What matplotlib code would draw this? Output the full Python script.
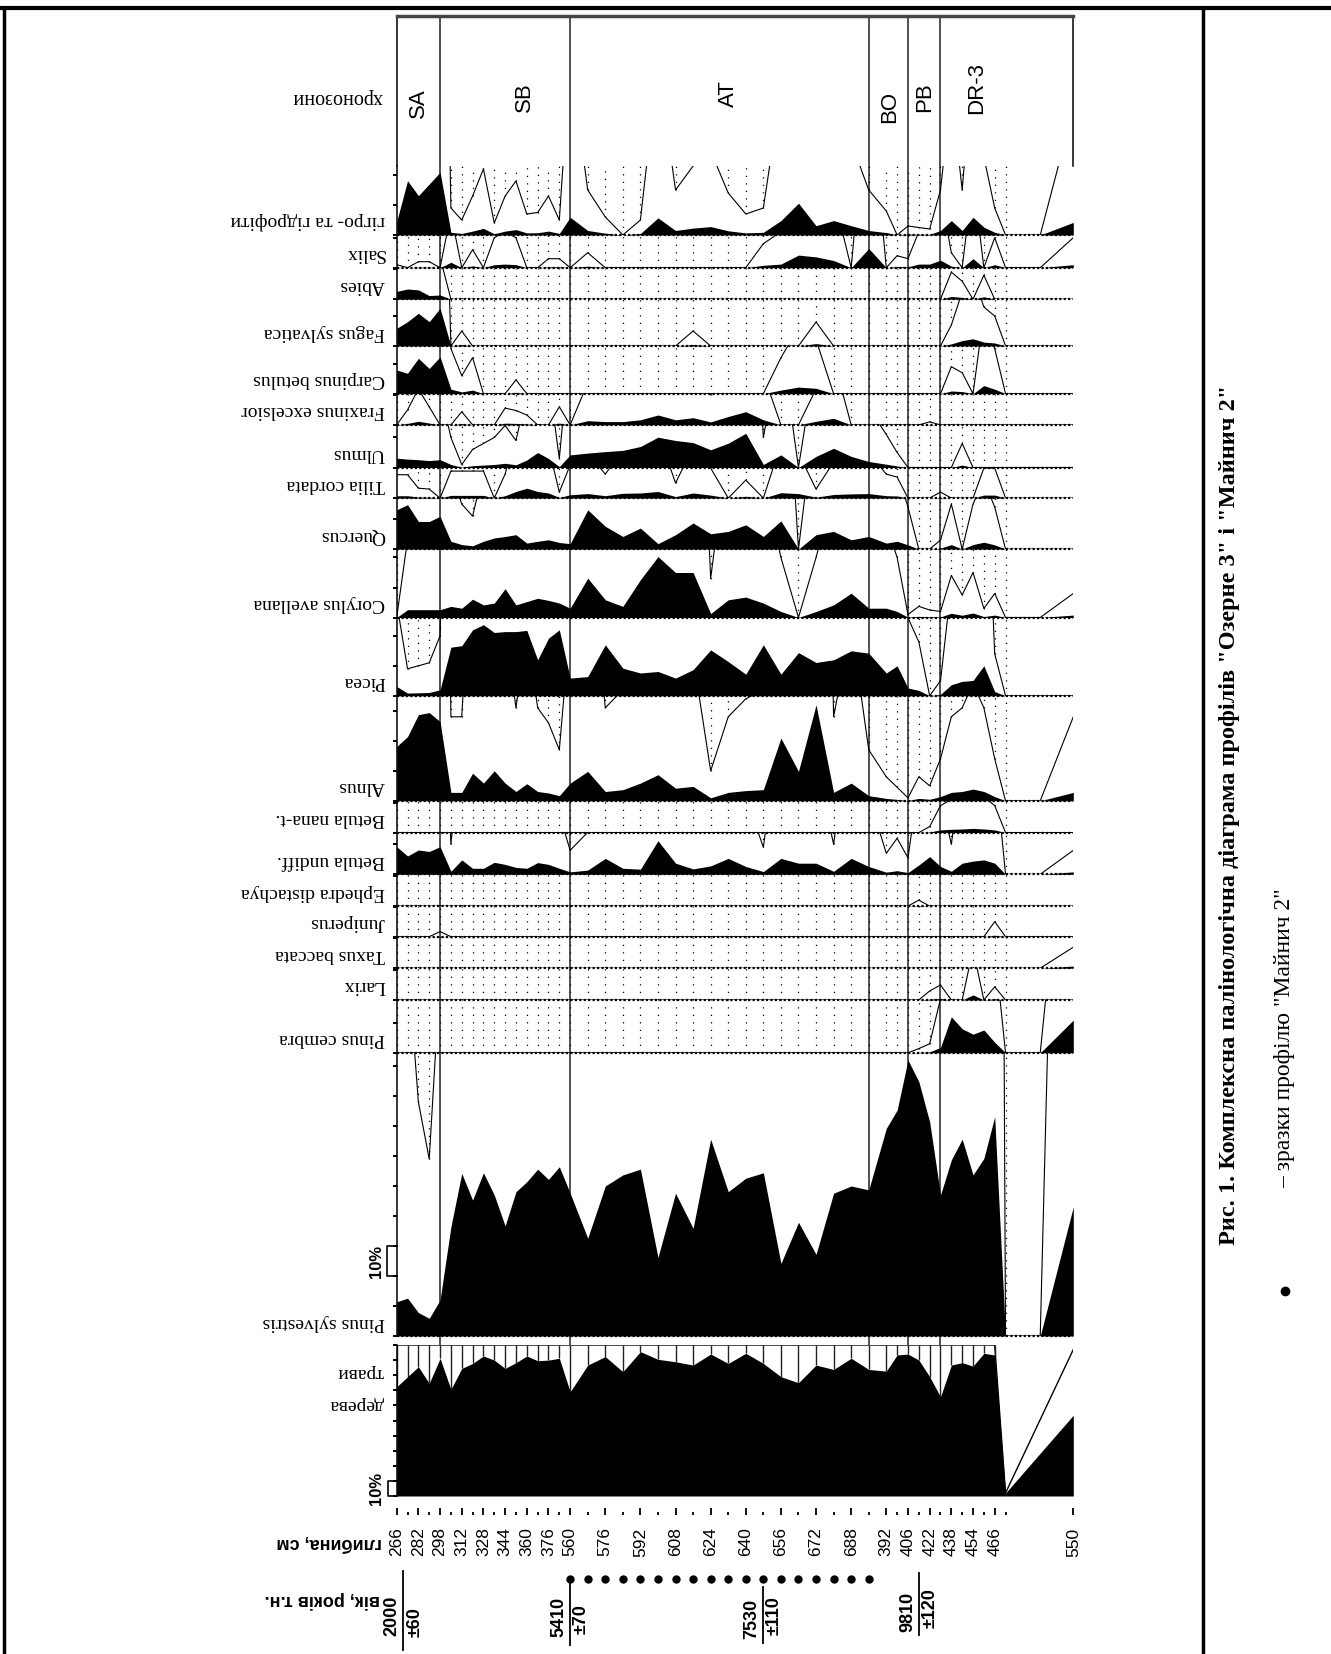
import numpy as np
import matplotlib
matplotlib.use("Agg")
import matplotlib.pyplot as plt
from matplotlib.transforms import blended_transform_factory as blend

plt.rcParams["font.family"] = ["Liberation Sans", "DejaVu Sans"]

# ---- зразки (глибина, см) ----
depth_oz_top = [266, 274, 282, 290, 298, 305, 312, 320, 328, 336, 344, 352, 360, 368, 376, 384]
depth_mn = [560, 568, 576, 584, 592, 600, 608, 616, 624, 632, 640, 648, 656, 664, 672, 680, 688, 696]
depth_oz_low = [392, 399, 406, 414, 422, 430, 438, 446, 454, 460, 466, 474, 520, 550]
depth_labels = [266, 282, 298, 312, 328, 344, 360, 376, 560, 576, 592, 608, 624, 640, 656, 672,
                688, 392, 406, 422, 438, 454, 466, 550]
# крок по складеній осі: Озерне 3 = 1, Майнич 2 = 1.62, хвіст профілю
step_oz, step_mn, step_tail = 1.0, 1.62, [3.2, 3.05]

# хронозони: межі та назви
zone_bounds = [("oz", 298), ("mn", 560), ("mn", 696), ("oz", 406), ("oz", 430)]
zone_names = [("SA", "oz", 282), ("SB", "oz", 358), ("AT", "mn", 632),
              ("BO", "oz", 394), ("PB", "oz", 418), ("DR-3", "oz", 456)]

# радіовуглецеві дати
dates = [(2000, 60, "oz", 271), (5410, 70, "mn", 560), (7530, 110, "mn", 648), (9810, 120, "oz", 414)]

# ---- пилок, % (по зразках: 16 верх. Озерне 3, 18 Майнич 2, 14 ниж. Озерне 3) ----
hygro = [4.5, 18.1, 13.1, 17.0, 20.9,
         0.9, 0.5, 1.3, 2.2, 0.4, 1.3, 1.8, 0.7, 0.75, 1.3, 0.5,
         5.9, 1.5, 0.6, 0, 0.5, 5.7, 1.5, 2.3, 2.8, 1.4, 0.7, 0.9, 4.8, 10.6, 3.1, 4.8, 3.1, 1.5,
         0.8, 0, 0.3, 0.25, 0.2, 1.5, 4.8, 1.5, 5.9, 2.6, 0.9, 0,
         0, 4.2]
salix = [0.1, 0, 0.2, 0.2, 0,
         1.8, 0, 0.6, 0, 1.0, 1.2, 1.0, 0, 0, 0.3, 0.3,
         0, 0.5, 0, 0, 0, 0, 0, 0, 0, 0, 0, 0.8, 1.2, 4.2, 3.6, 2.4, 0, 6.4,
         0, 0.4, 0.3, 1.2, 1.2, 2.5, 0.5, 0, 3.0, 0, 1.0, 0,
         0, 1.0]
abies = [2.6, 3.4, 3.1, 1.2, 1.4,
         0, 0, 0, 0, 0, 0, 0, 0, 0, 0, 0,
         0, 0, 0, 0, 0, 0, 0, 0, 0, 0, 0, 0, 0, 0, 0, 0, 0, 0,
         0, 0, 0, 0, 0, 0, 0.9, 0.6, 0, 0.8, 0, 0,
         0, 0]
fagus = [5.9, 8.1, 10.9, 8.1, 12.6,
         0, 0.5, 0, 0, 0, 0, 0, 0, 0, 0, 0,
         0, 0, 0, 0, 0, 0, 0, 0.5, 0, 0, 0, 0, 0, 0, 0.8, 0, 0, 0,
         0, 0, 0, 0, 0, 0, 0.7, 1.8, 2.4, 1.3, 1.0, 0,
         0, 0]
carpinus = [7.9, 6.8, 11.8, 8.4, 12.3,
            1.5, 0.6, 1.2, 0, 0, 0, 0.46, 0, 0, 0, 0,
            0, 0, 0, 0, 0, 0, 0, 0, 0, 0, 0, 0, 1.2, 2.2, 1.8, 0, 0, 0,
            0, 0, 0, 0, 0, 0, 0.9, 0.7, 0, 2.7, 1.5, 0,
            0, 0]
fraxinus = [0, 0.5, 1.2, 0.6, 0,
            0, 0.44, 0, 0, 0, 0.56, 0.48, 0.33, 0, 0, 0.6,
            0, 1.4, 1.1, 1.1, 1.7, 3.3, 1.7, 2.4, 1.0, 2.8, 4.4, 1.7, 0, 0, 1.2, 2.2, 0, 0,
            0, 0, 0, 0, 0.1, 0, 0, 0, 0, 0, 0, 0,
            0, 0]
ulmus = [3.1, 2.8, 2.6, 2.3, 2.6,
         1.0, 0.1, 0.6, 0.8, 1.0, 1.4, 0.9, 2.5, 5.0, 3.0, 0.3,
         4.2, 4.8, 5.3, 5.7, 7.0, 10.1, 9.0, 8.3, 5.9, 8.1, 11.4, 1.0, 4.2, 0, 3.7, 6.4, 3.7, 2.0,
         1.1, 0.5, 0, 0, 0, 0, 0, 0.8, 0, 0, 0, 0,
         0, 0]
tilia = [0.78, 0.78, 0.33, 0.3, 0,
         0.9, 0.9, 0.9, 0.9, 0, 0.8, 2.2, 3.3, 2.2, 1.7, 0.2,
         1.1, 1.5, 0.8, 1.6, 1.7, 2.2, 0.5, 1.7, 1.0, 0, 0.6, 0, 1.8, 1.5, 0.3, 1.2, 1.4, 1.5,
         0.8, 0.7, 0, 0, 0, 0.2, 0, 0, 0, 1.0, 1.0, 0,
         0, 0]
quercus = [13.1, 14.8, 9.2, 9.2, 10.9,
           2.6, 1.5, 1.1, 2.6, 3.7, 4.2, 4.8, 2.0, 2.6, 3.1, 2.2,
           1.8, 13.1, 7.6, 4.2, 7.0, 1.8, 4.8, 8.7, 5.1, 5.9, 8.1, 4.2, 9.4, 0, 4.8, 5.9, 3.1, 4.2,
           2.0, 2.6, 1.4, 0, 0, 0.3, 1.5, 0, 1.5, 2.3, 1.4, 0,
           0, 0]
corylus = [0, 2.6, 2.6, 2.6, 2.6,
           3.7, 3.1, 6.1, 4.2, 4.8, 9.6, 4.2, 5.3, 6.4, 5.7, 4.8,
           3.1, 13.1, 5.9, 3.7, 12.6, 20.3, 15.0, 15.0, 1.3, 5.9, 6.8, 4.8, 2.0, 0, 2.0, 4.2, 8.1, 3.1,
           3.1, 2.0, 0.1, 0.37, 0.25, 0.2, 1.4, 0.75, 1.5, 0.3, 0.8, 0,
           0, 0.8]
picea = [3.1, 0.9, 1.0, 1.1, 2.0,
         16.2, 16.7, 22.0, 23.7, 21.1, 21.4, 21.4, 21.8, 12.0, 19.2, 22.0,
         5.9, 6.4, 17.0, 9.2, 7.6, 8.1, 5.9, 8.7, 15.3, 11.4, 7.2, 17.0, 7.2, 14.4, 11.1, 12.0, 15.0, 14.2,
         7.6, 10.0, 2.6, 1.8, 0, 0.5, 3.7, 4.8, 5.1, 10.0, 1.4, 0,
         0, 0]
alnus = [18.1, 21.4, 28.7, 29.4, 26.4,
         2.8, 2.8, 9.2, 5.9, 10.0, 5.9, 3.1, 5.7, 3.1, 2.6, 1.7,
         5.9, 9.8, 3.1, 3.7, 5.9, 8.7, 4.2, 4.8, 1.0, 2.8, 3.4, 3.7, 20.9, 9.8, 32.0, 2.8, 5.9, 1.7,
         0.8, 0.45, 0.1, 0.8, 0.5, 1.4, 2.8, 3.1, 3.9, 3.1, 1.4, 0,
         0, 2.8]
betula_nana = [0] * 38 + [0.2, 0.9, 1.1, 1.2, 1.4, 1.2, 0.9, 0] + [0, 0]
betula = [9.2, 6.1, 8.1, 7.6, 9.2,
          1.0, 4.8, 2.0, 2.0, 4.0, 3.3, 2.3, 2.0, 3.9, 3.3, 2.0,
          0.8, 1.4, 5.3, 2.0, 1.7, 11.2, 3.7, 1.8, 2.8, 5.3, 2.6, 0.9, 5.3, 3.7, 3.7, 1.0, 5.3, 2.6,
          0.7, 1.2, 0.55, 3.1, 5.9, 2.6, 1.0, 3.7, 4.4, 4.8, 3.7, 0,
          0, 0.8]
ephedra = [0] * 37 + [0.2] + [0] * 10
juniperus = [0] * 4 + [0.17] + [0] * 39 + [0.5, 0, 0, 0]
taxus = [0] * 47 + [0.7]
larix = [0] * 38 + [0.3, 0.5, 0, 0, 1.7, 0, 0.44, 0] + [0, 0]
pinus_cembra = [0] * 37 + [0.14, 0.3, 1.8, 12.0, 8.0, 6.2, 7.6, 3.5, 0] + [0, 10.9]
pinus_sylv = [11.4, 12.6, 7.8, 5.9, 12.0,
              36.4, 54.2, 45.3, 54.4, 47.0, 36.7, 48.1, 51.4, 55.6, 52.2, 56.4,
              47.6, 32.6, 50.0, 53.7, 55.6, 26.2, 47.6, 35.9, 65.6, 48.1, 52.6, 54.4, 24.2, 37.9, 27.2, 47.6, 50.0, 48.7,
              69.2, 75.3, 92.0, 84.8, 71.4, 47.0, 58.7, 65.6, 53.7, 59.2, 73.1, 0,
              0, 43.1]
trees = [72.3, 79.0, 85.6, 74.6, 91.2,
         70.6, 84.5, 87.8, 92.7, 90.0, 84.5, 88.3, 92.7, 89.6, 90.0, 91.2,
         69.0, 86.7, 92.3, 82.3, 95.6, 90.5, 88.9, 86.7, 94.0, 87.8, 94.5, 87.8, 79.0, 75.0, 86.7, 83.8, 91.2, 83.8,
         82.7, 93.4, 94.0, 90.0, 79.0, 65.7, 86.7, 88.3, 86.0, 94.5, 93.4, 2.0,
         np.nan, 53.5]
trees_herbs = [100] * 45 + [2.0, np.nan, 97.0]

panels = [
    ("гігро- та гідрофіти", hygro, 23.0),
    ("Salix", salix, 10.9),
    ("Abies", abies, 10.5),
    ("Fagus sylvatica", fagus, 15.6),
    ("Carpinus betulus", carpinus, 15.9),
    ("Fraxinus excelsior", fraxinus, 10.4),
    ("Ulmus", ulmus, 14.2),
    ("Tilia cordata", tilia, 10.2),
    ("Quercus", quercus, 17.0),
    ("Corylus avellana", corylus, 22.8),
    ("Picea", picea, 26.1),
    ("Alnus", alnus, 35.0),
    ("Betula nana-t.", betula_nana, 10.6),
    ("Betula undiff.", betula, 13.9),
    ("Ephedra distachya", ephedra, 10.6),
    ("Juniperus", juniperus, 10.2),
    ("Taxus baccata", taxus, 10.5),
    ("Larix", larix, 10.6),
    ("Pinus cembra", pinus_cembra, 17.6),
    ("Pinus sylvestris", pinus_sylv, 94.4),
]

# ---- позиції зразків на складеній осі ----
steps = [0.0] + [step_oz] * 16 + [step_mn] * 18 + [step_oz] * 11 + step_tail
pos = np.cumsum(steps)
profile = ["oz"] * len(depth_oz_top) + ["mn"] * len(depth_mn) + ["oz"] * len(depth_oz_low)
depths = depth_oz_top + depth_mn + depth_oz_low
xmax = pos[-1]


def to_pos(prof, d):
    ds = [dd for p, dd in zip(profile, depths) if p == prof]
    ps = [pp for p, pp in zip(profile, pos) if p == prof]
    return np.interp(d, ds, ps)


has_tick = np.array([d != 520 for d in depths])
dotted_ok = np.array([d not in (520, 550) for d in depths])

W, H = 1331, 1654
X0, X1 = 396.7, 1073.3
PX = 3.0  # пікселів на 1 %

fig = plt.figure(figsize=(W / 100, H / 100), dpi=100)


def frac(x0, y0, x1, y1):
    return [x0 / W, 1 - y1 / H, (x1 - x0) / W, (y1 - y0) / H]


ov = fig.add_axes([0, 0, 1, 1])
ov.set_xlim(0, W)
ov.set_ylim(H, 0)
ov.axis("off")
ov.plot([0, W], [8, 8], color="black", lw=3)
ov.plot([4, 4], [8, H], color="black", lw=2.5)
ov.plot([1203, 1203], [8, H], color="black", lw=2.5)

# лінії меж хронозон
zax = fig.add_axes(frac(X0, 16, X1, 1345))
zax.set_xlim(0, xmax)
zax.axis("off")
for prof, d in zone_bounds:
    zax.axvline(to_pos(prof, d), color="#222222", lw=1.1)

# хронозони
cax = fig.add_axes(frac(X0, 16, X1, 166))
cax.set_xlim(0, xmax)
cax.patch.set_alpha(0)
cax.set_xticks([])
cax.set_yticks([])
cax.spines["bottom"].set_visible(False)
cax.spines["top"].set_linewidth(2.5)
cax.spines["top"].set_color("#444444")
for s in ("left", "right"):
    cax.spines[s].set_linewidth(1.1)
zone_label_y = [103, 97, 94, 107, 97, 88]
bt_c = blend(cax.transData, ov.transData)
for (lab, prof, d), yy in zip(zone_names, zone_label_y):
    cax.text(to_pos(prof, d), yy, lab, transform=bt_c, rotation=90, ha="center", va="center",
             fontsize=16)
ov.text(383, 97, "хронозони", rotation=180, ha="right", va="center",
        fontfamily="Liberation Serif", fontsize=14.5)

# пилкові криві
top = 166.0
for name, vals, vmax in panels:
    h = vmax * PX
    ax = fig.add_axes(frac(X0, top, X1, top + h))
    ax.patch.set_alpha(0)
    ax.set_xlim(0, xmax)
    ax.set_ylim(0, vmax)
    v = np.array(vals, dtype=float)
    ex = v * 10
    ax.fill_between(pos, v, 0, color="black", lw=0, zorder=3)
    ax.plot(pos, ex, color="black", lw=0.8, zorder=2)
    m = (ex < vmax) & dotted_ok
    ax.vlines(pos[m], ex[m], vmax, colors="black", linestyles=(0, (1, 5)), lw=0.9, zorder=1)
    ax.axhline(0, color="black", lw=1.6, ls=(0, (1, 1)), clip_on=False, zorder=1)
    for s in ("top", "right", "bottom"):
        ax.spines[s].set_visible(False)
    ax.spines["left"].set_linewidth(1.1)
    ax.set_xticks([])
    ax.set_yticks(np.arange(0, vmax + 0.01, 10))
    ax.tick_params(axis="y", direction="out", length=3, width=1.4, labelleft=False)
    ov.text(385, top + h - 14, name, rotation=180, ha="right", va="center",
            fontfamily="Liberation Serif", fontsize=14)
    if name == "Pinus sylvestris":
        bt = blend(ov.transData, ax.transData)
        ax.plot([X0, 387, 387, X0], [30, 30, 20, 20], color="black", lw=1.2,
                transform=bt, clip_on=False)
        ax.text(377, 25, "10%", transform=bt, rotation=90, ha="center", va="center",
                fontsize=12, fontweight="bold")
    top += h

# дерева / трави
tax = fig.add_axes(frac(X0, 1345, X1, 1496))
tax.patch.set_alpha(0)
tax.set_xlim(0, xmax)
tax.set_ylim(0, 100)
tr = np.array(trees, dtype=float)
tot = np.array(trees_herbs, dtype=float)
ok = ~np.isnan(tr)
tax.fill_between(pos[ok], tr[ok], 0, color="black", lw=0, zorder=3)
tax.plot(pos[ok], tot[ok], color="black", lw=1.0)
vm = ok & dotted_ok & (tot - np.nan_to_num(tr) > 0.5)
tax.vlines(pos[vm], tr[vm], tot[vm], colors="#222222", lw=1.0)
for s in ("top", "right", "bottom"):
    tax.spines[s].set_visible(False)
tax.spines["left"].set_linewidth(1.1)
tax.set_xticks([])
tax.set_yticks(np.arange(0, 101, 10))
tax.tick_params(axis="y", direction="out", length=3, width=1.4, labelleft=False)
btt = blend(ov.transData, tax.transData)
tax.plot([X0, 388, 388, X0], [10, 10, 0, 0], color="black", lw=1.2, transform=btt, clip_on=False)
tax.text(376, 5, "10%", transform=btt, rotation=90, ha="center", va="center",
         fontsize=12, fontweight="bold")
ov.text(384, 1372, "трави", rotation=180, ha="right", va="center",
        fontfamily="Liberation Serif", fontsize=14)
ov.text(384, 1405, "дерева", rotation=180, ha="right", va="center",
        fontfamily="Liberation Serif", fontsize=14)

# вісь глибин
dax = fig.add_axes(frac(X0, 1505, X1, 1515))
dax.set_xlim(0, xmax)
dax.patch.set_alpha(0)
for s in dax.spines.values():
    s.set_visible(False)
dax.set_yticks([])
major = np.array([d in depth_labels for d in depths]) & has_tick
minor = has_tick & ~major
dax.set_xticks(pos[major], labels=[str(d) for d, mj in zip(depths, major) if mj])
dax.set_xticks(pos[minor], minor=True)
dax.tick_params(axis="x", which="major", direction="in", length=5, width=1.3, pad=9,
                labelsize=12.5, labelrotation=90)
dax.tick_params(axis="x", which="minor", direction="in", length=2.5, width=1.3)
ov.text(382, 1543, "глибина, см", rotation=180, ha="right", va="center",
        fontsize=13, fontweight="bold")
ov.text(380, 1600, "вік, років т.н.", rotation=180, ha="right", va="center",
        fontsize=13, fontweight="bold")

# вік і зразки Майнич 2
aax = fig.add_axes(frac(X0, 1560, X1, 1654))
aax.set_xlim(0, xmax)
aax.axis("off")
bta = blend(aax.transData, ov.transData)
mn_pos = np.array([to_pos("mn", d) for d in depth_mn])
aax.plot(mn_pos, np.full(len(mn_pos), 1579), "o", color="black", ms=5, transform=bta, clip_on=False)
date_layout = [(1571, 1650, 1616, 1622), (1577, 1645, 1617, 1619),
               (1587, 1643, 1619, 1616), (1573, 1635, 1612, 1608)]
for (age, err, prof, d), (y0, y1, yn, ye) in zip(dates, date_layout):
    p = to_pos(prof, d)
    aax.plot([p, p], [y0, y1], color="black", lw=1.3, transform=bta, clip_on=False)
    aax.text(p - 0.25, yn, str(age), transform=bta, rotation=90, ha="right", va="center",
             fontsize=13, fontweight="bold")
    aax.text(p + 0.25, ye, "±" + str(err), transform=bta, rotation=90, ha="left", va="center",
             fontsize=13, fontweight="bold")

# підпис
ov.text(1230, 815, 'Рис. 1. Комплексна палінологічна діаграма профілів "Озерне 3" і "Майнич 2"',
        rotation=90, ha="center", va="center", fontfamily="Liberation Serif",
        fontweight="bold", fontsize=17.5)
ov.plot(1285, 1291, "o", color="black", ms=6)
ov.text(1285, 1038, '– зразки профілю "Майнич 2"', rotation=90, ha="center", va="center",
        fontfamily="Liberation Serif", fontsize=17)

fig.savefig("out.png", dpi=100)
